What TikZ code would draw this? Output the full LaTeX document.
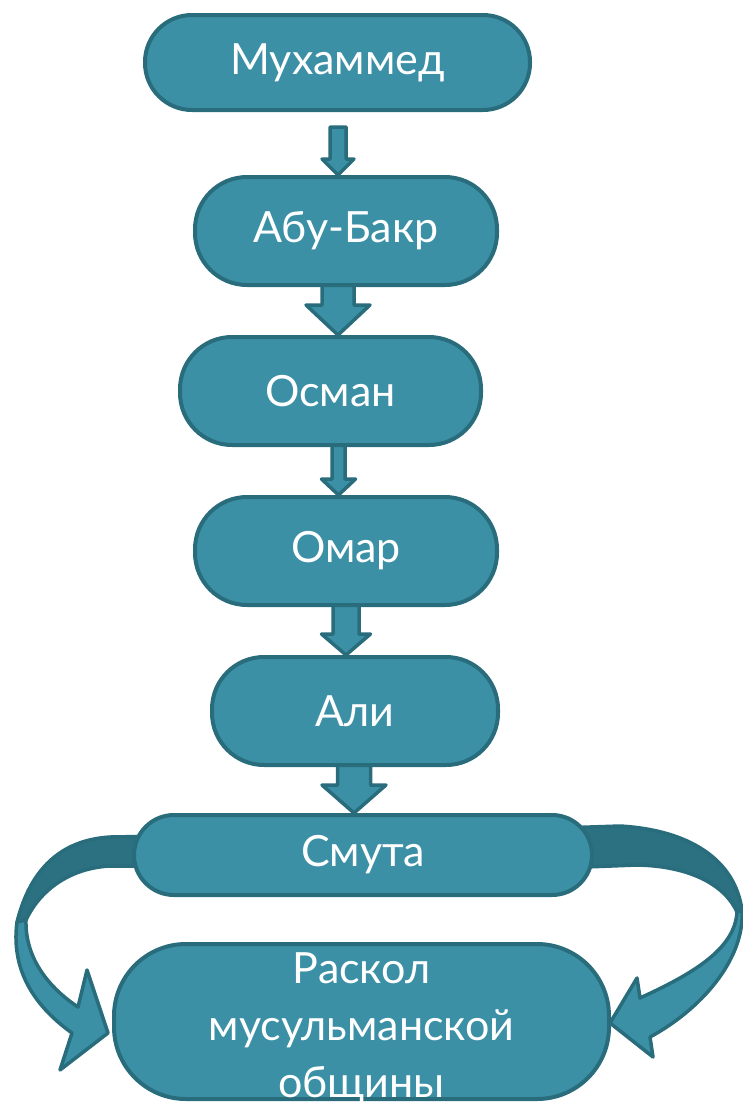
\documentclass[tikz,border=0pt]{standalone}
\usepackage{fontspec}
\setmainfont{Lato}
\usepackage{tikz}
\usetikzlibrary{calc,backgrounds}

\definecolor{boxfill}{RGB}{59,144,166}
\definecolor{boxline}{RGB}{41,108,124}
\definecolor{bandback}{RGB}{44,113,129}

\newcommand{\blockarrow}[7][2]{%
  \draw[arrowbox] let \p1=(#2.south), \p2=(#3.north) in
    ({#4pt-#5pt},{\y1+#1pt}) -- ({#4pt-#5pt},{\y2+#7pt}) -- ({#4pt-#6pt},{\y2+#7pt}) --
    (#4pt,\y2) -- ({#4pt+#6pt},{\y2+#7pt}) -- ({#4pt+#5pt},{\y2+#7pt}) --
    ({#4pt+#5pt},{\y1+#1pt}) -- cycle;}

\begin{document}
\begin{tikzpicture}[x=1pt,y=-1pt,
  box/.style={draw=boxline,fill=boxfill,line width=4pt,text=white,inner sep=0pt,
    align=center,font=\fontsize{43}{57}\selectfont},
  arrowbox/.style={draw=boxline,fill=boxfill,line width=3.5pt,line join=round},
  bandfront/.style={draw=boxline,fill=boxfill,line width=3.5pt,line join=round},
  bandrear/.style={draw=boxline,fill=bandback,line width=3.5pt,line join=round}]
\useasboundingbox (0,0) rectangle (743,1103);

\node[box,minimum width=385pt,minimum height=95pt,rounded corners=47pt] (muh) at (337.5,62.5) {Мухаммед};
\node[box,minimum width=302pt,minimum height=108pt,rounded corners=52pt] (abu) at (346,231) {Абу-Бакр};
\node[box,minimum width=301pt,minimum height=108pt,rounded corners=52pt] (osm) at (330.5,391) {Осман};
\node[box,minimum width=302pt,minimum height=108pt,rounded corners=52pt] (omar) at (346,551) {Омар};
\node[box,minimum width=286pt,minimum height=108pt,rounded corners=52pt] (ali) at (355,711) {Али};
\node[box,minimum width=458pt,minimum height=80pt,rounded corners=40pt] (smuta) at (363,855) {Смута};
\node[box,minimum width=495pt,minimum height=155pt,rounded corners=72pt,inner ysep=-12pt] (raskol) at (361.5,1021.5)
  {\rule{0pt}{45pt}Раскол\\мусульманской\\общины};

\begin{scope}[on background layer]
\blockarrow[-15]{muh}{abu}{338}{8}{16}{16}
\blockarrow{abu}{osm}{338}{16}{32}{30}
\blockarrow{osm}{omar}{338.5}{6.5}{17}{16}
\blockarrow{omar}{ali}{346}{13}{24.5}{21}
\blockarrow{ali}{smuta}{354}{16.5}{32}{28}

\begin{scope}[shift={(smuta.west)}]
\draw[bandrear] (38,-19) -- (-22,-18) .. controls (-72,-15) and (-102,15) .. (-115,67)
  -- (-106,65) .. controls (-92,35) and (-62,13) .. (-22,11) -- (38,11) -- cycle;
\end{scope}
\begin{scope}[shift={(raskol.west)}]
\draw[bandfront] (-95,-99.5) .. controls (-102,-46.5) and (-72,-11.5) .. (-40,11.5)
  -- (-52,48.5) -- (-4,11.5) -- (-25,-51.5) -- (-34,-14.5)
  .. controls (-67,-36.5) and (-87,-66.5) .. (-86,-101.5) -- cycle;
\end{scope}

\begin{scope}[shift={(smuta.east)}]
\draw[bandrear] (-34,-27) -- (26,-29) .. controls (96,-25) and (141,5) .. (148,55)
  -- (143,57) .. controls (131,30) and (96,11) .. (43,10) -- (-34,13) -- cycle;
\end{scope}
\begin{scope}[shift={(raskol.east)}]
\draw[bandfront] (131,-111.5) .. controls (134,-61.5) and (89,-11.5) .. (39,15.5)
  -- (42,35.5) -- (-1,1.5) -- (26,-43.5) -- (29,-23.5)
  .. controls (79,-46.5) and (124,-71.5) .. (126,-109.5) -- cycle;
\end{scope}
\end{scope}
\end{tikzpicture}
\end{document}
